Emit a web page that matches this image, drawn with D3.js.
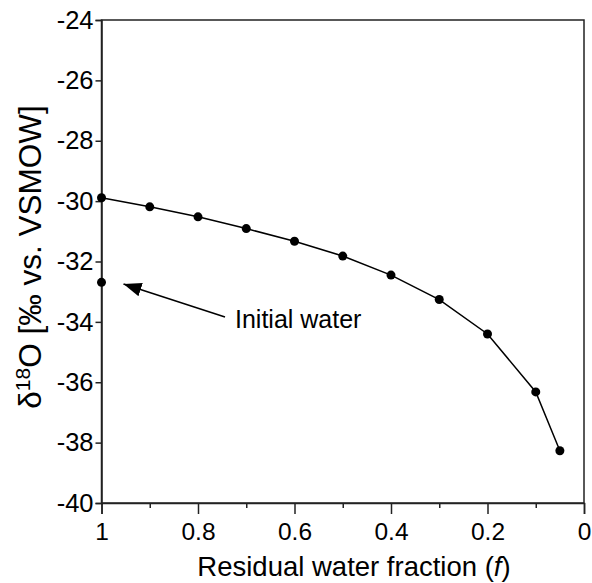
<!DOCTYPE html>
<html>
<head>
<meta charset="utf-8">
<script src="https://cdn.jsdelivr.net/npm/d3@7"></script>
<style>
body { margin: 0; background: #fff; }
text { font-family: "Liberation Sans", Arial, sans-serif; fill: #000; }
.axis path, .axis line { stroke: #222; stroke-width: 1.5; }
</style>
</head>
<body>
<div id="chart"></div>
<script>
// data
var fraction = [1, 0.9, 0.8, 0.7, 0.6, 0.5, 0.4, 0.3, 0.2, 0.1, 0.05];
var delta18O = [-29.89, -30.19, -30.52, -30.91, -31.33, -31.82, -32.45, -33.26, -34.40, -36.32, -38.27];
var initialWater = [{f: 1, d: -32.69}];
var xMajor = [1, 0.8, 0.6, 0.4, 0.2, 0];
var xMinor = [0.9, 0.7, 0.5, 0.3, 0.1];
var yTicks = [-40, -38, -36, -34, -32, -30, -28, -26, -24];

var W = 592, H = 583;
var margin = {top: 20, right: 8, bottom: 80, left: 101.5};
var width = W - margin.left - margin.right;
var height = H - margin.top - margin.bottom;

var svg = d3.select("#chart").append("svg")
	.attr("width", W)
	.attr("height", H);

var g = svg.append("g")
	.attr("transform", "translate(" + margin.left + "," + margin.top + ")");

var x = d3.scaleLinear().domain([1, 0]).range([0, width]);
var y = d3.scaleLinear().domain([-40, -24]).range([height, 0]);

var data = fraction.map((f, i) => ({f: f, d: delta18O[i]}));

// frame
g.append("rect")
	.attr("width", width)
	.attr("height", height)
	.style("fill", "none")
	.style("stroke", "#222")
	.style("stroke-width", 1.5);

// x axis, major + minor ticks
var xAxis = g.append("g")
	.attr("class", "axis")
	.attr("transform", "translate(0," + height + ")")
	.call(d3.axisBottom(x).tickValues(xMajor).tickSize(11).tickPadding(9)
		.tickFormat(d3.format("~g")));
xAxis.selectAll("text").style("font-size", "24.5px");

g.append("g")
	.attr("class", "axis")
	.attr("transform", "translate(0," + height + ")")
	.call(d3.axisBottom(x).tickValues(xMinor).tickSize(5).tickFormat(""))
	.select(".domain").remove();

// y axis
var yAxis = g.append("g")
	.attr("class", "axis")
	.call(d3.axisLeft(y).tickValues(yTicks).tickSize(6).tickPadding(2)
		.tickFormat(d3.format("d")));
yAxis.selectAll("text").style("font-size", "25.5px");
// use a plain hyphen like the original
yAxis.selectAll("text").text(d => String(d));

// line + points
g.append("path")
	.datum(data)
	.attr("d", d3.line().x(d => x(d.f)).y(d => y(d.d)))
	.style("fill", "none")
	.style("stroke", "#000")
	.style("stroke-width", 1.5);

g.selectAll(".dot")
	.data(data.concat(initialWater))
	.enter().append("circle")
	.attr("class", "dot")
	.attr("cx", d => x(d.f))
	.attr("cy", d => y(d.d))
	.attr("r", 4.5)
	.style("fill", "#000");

// annotation arrow
svg.append("defs").append("marker")
	.attr("id", "head")
	.attr("viewBox", "0 0 18 14")
	.attr("refX", 18)
	.attr("refY", 7)
	.attr("markerWidth", 18)
	.attr("markerHeight", 14)
	.attr("markerUnits", "userSpaceOnUse")
	.attr("orient", "auto")
	.append("path")
	.attr("d", "M0,0L18,7L0,14Z")
	.style("fill", "#000");

g.append("line")
	.attr("x1", 225 - margin.left)
	.attr("y1", 317 - margin.top)
	.attr("x2", 123.5 - margin.left)
	.attr("y2", 284 - margin.top)
	.style("stroke", "#000")
	.style("stroke-width", 1.5)
	.attr("marker-end", "url(#head)");

g.append("text")
	.attr("x", 235 - margin.left)
	.attr("y", 328 - margin.top)
	.style("font-size", "25px")
	.text("Initial water");

// axis titles
var xl = svg.append("text")
	.attr("x", 354)
	.attr("y", 576)
	.style("text-anchor", "middle")
	.style("font-size", "27.5px");
xl.append("tspan").text("Residual water fraction (");
xl.append("tspan").style("font-style", "italic").text("f");
xl.append("tspan").text(")");

var yl = svg.append("text")
	.attr("transform", "translate(41,257) rotate(-90)")
	.style("text-anchor", "middle")
	.style("font-size", "31.5px");
yl.append("tspan").text("\u03B4");
yl.append("tspan").attr("dy", -11).style("font-size", "21px").text("18");
yl.append("tspan").attr("dy", 11).text("O [\u2030 vs. VSMOW]");
</script>
</body>
</html>
